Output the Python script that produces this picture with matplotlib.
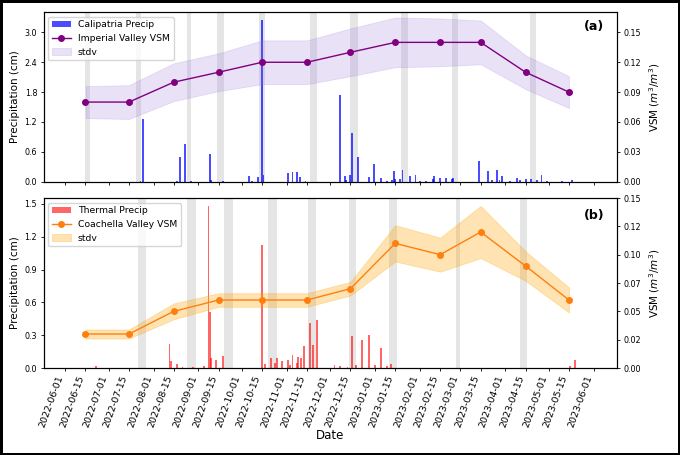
import numpy as np
import pandas as pd
import matplotlib
matplotlib.use('Agg')
import matplotlib.pyplot as plt
import matplotlib.dates as mdates

# monthly VSM (15th of each month)
vsm_dates = pd.date_range('2022-06-01', periods=12, freq='MS') + pd.Timedelta(days=14)
imperial_vsm = [0.08, 0.08, 0.10, 0.11, 0.12, 0.12, 0.13, 0.14, 0.14, 0.14, 0.11, 0.09]
imperial_std = [0.016, 0.017, 0.019, 0.019, 0.022, 0.022, 0.024, 0.025, 0.024, 0.022, 0.017, 0.016]
coachella_vsm = [0.03, 0.03, 0.05, 0.06, 0.06, 0.06, 0.07, 0.11, 0.10, 0.12, 0.09, 0.06]
coachella_std = [0.004, 0.004, 0.007, 0.006, 0.006, 0.006, 0.006, 0.016, 0.015, 0.023, 0.013, 0.011]

# daily precipitation (cm)
calip_dates = ['2022-07-23', '2022-07-25', '2022-08-17', '2022-08-19', '2022-08-23', '2022-08-27',
               '2022-09-09', '2022-09-10', '2022-09-18', '2022-10-06', '2022-10-08', '2022-10-12',
               '2022-10-15', '2022-10-16', '2022-11-02', '2022-11-05', '2022-11-08', '2022-11-10',
               '2022-11-14', '2022-12-08', '2022-12-11', '2022-12-12', '2022-12-15', '2022-12-16',
               '2022-12-20', '2022-12-28', '2022-12-31', '2023-01-05', '2023-01-09', '2023-01-13',
               '2023-01-14', '2023-01-15', '2023-01-18', '2023-01-20', '2023-01-25', '2023-01-29',
               '2023-02-01', '2023-02-05', '2023-02-10', '2023-02-11', '2023-02-15', '2023-02-19',
               '2023-02-23', '2023-02-24', '2023-03-14', '2023-03-20', '2023-03-23', '2023-03-26',
               '2023-03-28', '2023-03-30', '2023-04-04', '2023-04-09', '2023-04-11', '2023-04-15',
               '2023-04-19', '2023-04-23', '2023-04-26', '2023-04-30', '2023-05-10', '2023-05-17']
calip_precip = [0.02, 1.26, 0.02, 0.50, 0.75, 0.02,
                0.55, 0.04, 0.02, 0.12, 0.02, 0.09,
                3.25, 0.13, 0.17, 0.20, 0.20, 0.095,
                0.02, 1.74, 0.11, 0.04, 0.13, 0.97,
                0.50, 0.10, 0.36, 0.07, 0.02, 0.03,
                0.21, 0.05, 0.06, 0.24, 0.12, 0.13,
                0.02, 0.01, 0.05, 0.12, 0.08, 0.08,
                0.05, 0.08, 0.42, 0.21, 0.04, 0.24,
                0.03, 0.12, 0.02, 0.08, 0.03, 0.05,
                0.05, 0.04, 0.13, 0.02, 0.01, 0.04]

thermal_dates = ['2022-06-22', '2022-08-12', '2022-08-13', '2022-08-17', '2022-08-21', '2022-08-28',
                 '2022-09-05', '2022-09-08', '2022-09-09', '2022-09-10', '2022-09-13', '2022-09-18',
                 '2022-10-15', '2022-10-17', '2022-10-21', '2022-10-24', '2022-10-25', '2022-10-29',
                 '2022-11-02', '2022-11-03', '2022-11-05', '2022-11-08', '2022-11-09', '2022-11-11',
                 '2022-11-13', '2022-11-17', '2022-11-19', '2022-11-22', '2022-12-04', '2022-12-08',
                 '2022-12-13', '2022-12-16', '2022-12-19', '2022-12-23', '2022-12-28', '2023-01-01',
                 '2023-01-05', '2023-01-09', '2023-01-12', '2023-05-16', '2023-05-19']
thermal_precip = [0.02, 0.22, 0.065, 0.04, 0.01, 0.01,
                  0.02, 1.48, 0.51, 0.09, 0.07, 0.11,
                  1.12, 0.04, 0.09, 0.05, 0.09, 0.06,
                  0.07, 0.03, 0.12, 0.05, 0.10, 0.09,
                  0.20, 0.41, 0.21, 0.44, 0.03, 0.02,
                  0.01, 0.29, 0.03, 0.26, 0.30, 0.03,
                  0.18, 0.02, 0.04, 0.02, 0.07]

# grey periods
imperial_gaps = [('2022-06-15', '2022-06-18'), ('2022-07-20', '2022-07-23'), ('2022-08-24', '2022-08-27'),
                 ('2022-09-14', '2022-09-19'), ('2022-10-13', '2022-10-17'), ('2022-11-17', '2022-11-22'),
                 ('2022-12-15', '2022-12-20'), ('2023-01-19', '2023-01-24'), ('2023-02-23', '2023-02-27'),
                 ('2023-04-18', '2023-04-22')]
coachella_gaps = [('2022-07-21', '2022-07-27'), ('2022-08-24', '2022-08-30'), ('2022-09-19', '2022-09-25'),
                  ('2022-10-19', '2022-10-25'), ('2022-11-16', '2022-11-21'), ('2022-12-14', '2022-12-19'),
                  ('2023-01-11', '2023-01-16'), ('2023-02-26', '2023-03-01'), ('2023-04-11', '2023-04-16')]

# x ticks: 1st and 15th of each month
date_ticks = pd.date_range('2022-06-01', '2023-06-01', freq='SMS')

plt.rcParams['axes.linewidth'] = 0.8
plt.rcParams['xtick.major.size'] = 2.5
plt.rcParams['ytick.major.size'] = 2.5
plt.rcParams['xtick.major.width'] = 0.6
plt.rcParams['ytick.major.width'] = 0.6

fig = plt.figure(figsize=(6.8, 4.55), dpi=100)
fig.patch.set_edgecolor('black')
fig.patch.set_linewidth(2.5)

ax1 = fig.add_axes([0.064, 0.6007, 0.843, 0.3729])
ax3 = fig.add_axes([0.064, 0.1912, 0.843, 0.3736])


def panel(ax, dates, precip, bar_color, bar_alpha, bar_label, vsm, std, line_color, fill_color,
          fill_alpha, line_label, gaps, ylim, yticks, vticks, tag, tag_y):
    for a, b in gaps:
        ax.axvspan(pd.Timestamp(a), pd.Timestamp(b), color='gray', alpha=0.2, lw=0, zorder=0)
    bars = ax.bar(pd.to_datetime(dates), precip, width=1.3, color=bar_color, alpha=bar_alpha,
                  lw=0, label=bar_label, zorder=2)
    ax.set_ylim(0, ylim)
    ax.set_yticks(yticks)
    ax.yaxis.set_major_formatter(matplotlib.ticker.FormatStrFormatter('%.1f'))
    ax.set_ylabel('Precipitation (cm)', fontsize=7.5, labelpad=3)
    ax.tick_params(axis='y', labelsize=5.8, pad=2)

    ax2 = ax.twinx()
    v = np.array(vsm)
    s = np.array(std)
    line, = ax2.plot(vsm_dates, v, '-o', color=line_color, ms=4, lw=1.0, label=line_label)
    fill = ax2.fill_between(vsm_dates, v - s, v + s, color=fill_color, alpha=fill_alpha, lw=0.6,
                            label='stdv')
    ax2.set_ylim(0, vticks[1])
    ax2.set_yticks(vticks[0])
    ax2.yaxis.set_major_formatter(matplotlib.ticker.FormatStrFormatter('%.2f'))
    ax2.set_ylabel('VSM ($m^3/m^3$)', fontsize=7.5, labelpad=5)
    ax2.tick_params(axis='y', labelsize=5.8, pad=2)
    ax2.legend([bars, line, fill], [bar_label, line_label, 'stdv'], loc='upper left', fontsize=6.7)
    ax2.text(0.978, tag_y, tag, transform=ax.transAxes, ha='right', va='center',
             fontsize=9, fontweight='bold')
    return ax2


panel(ax1, calip_dates, calip_precip, 'blue', 0.7, 'Calipatria Precip', imperial_vsm, imperial_std,
      'purple', 'mediumpurple', 0.2, 'Imperial Valley VSM', imperial_gaps, 3.41,
      [0, 0.6, 1.2, 1.8, 2.4, 3.0], (np.arange(0, 0.16, 0.03), 0.1705), '(a)', 0.915)
panel(ax3, thermal_dates, thermal_precip, 'red', 0.6, 'Thermal Precip', coachella_vsm, coachella_std,
      'tab:orange', 'orange', 0.3, 'Coachella Valley VSM', coachella_gaps, 1.554,
      [0, 0.3, 0.6, 0.9, 1.2, 1.5], (np.linspace(0, 0.15, 7), 0.15), '(b)', 0.90)

for ax in (ax1, ax3):
    ax.set_xlim(pd.Timestamp('2022-05-17'), pd.Timestamp('2023-06-17'))
    ax.set_xticks(date_ticks)
    ax.xaxis.set_major_formatter(mdates.DateFormatter('%Y-%m-%d'))

ax1.tick_params(axis='x', labelbottom=False)
plt.setp(ax3.get_xticklabels(), rotation=70, ha='right', fontsize=6.8)
ax3.tick_params(axis='x', pad=2)
ax3.set_xlabel('Date', fontsize=8.5, labelpad=0)

fig.savefig('out.png', dpi=100)
